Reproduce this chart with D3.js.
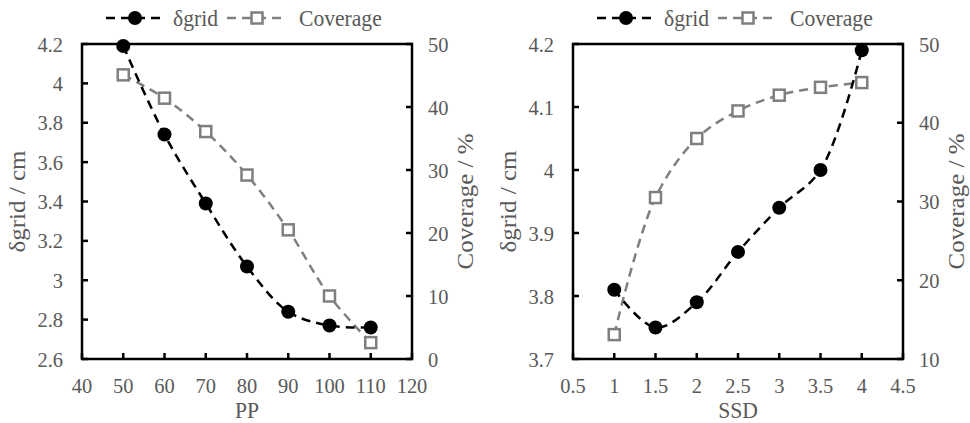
<!DOCTYPE html>
<html>
<head>
<meta charset="utf-8">
<script src="https://cdnjs.cloudflare.com/ajax/libs/d3/7.8.5/d3.min.js"></script>
<style>
  body { margin: 0; background: #fff; }
</style>
</head>
<body>
<div id="chart"></div>
<script>
// left panel
const ppValues = [50, 60, 70, 80, 90, 100, 110];
const ppGrid = [4.19, 3.74, 3.39, 3.07, 2.84, 2.77, 2.76];
const ppCoverage = [45.1, 41.4, 36.1, 29.2, 20.5, 10.0, 2.6];
const ppTicks = [40, 50, 60, 70, 80, 90, 100, 110, 120];
const ppGridTicks = [2.6, 2.8, 3, 3.2, 3.4, 3.6, 3.8, 4, 4.2];
const ppCovTicks = [0, 10, 20, 30, 40, 50];

// right panel
const ssdValues = [1, 1.5, 2, 2.5, 3, 3.5, 4];
const ssdGrid = [3.81, 3.75, 3.79, 3.87, 3.94, 4.00, 4.19];
const ssdCoverage = [13.1, 30.5, 38.0, 41.5, 43.5, 44.5, 45.1];
const ssdTicks = [0.5, 1, 1.5, 2, 2.5, 3, 3.5, 4, 4.5];
const ssdGridTicks = [3.7, 3.8, 3.9, 4, 4.1, 4.2];
const ssdCovTicks = [10, 20, 30, 40, 50];

const W = 970, H = 423;
const svg = d3.select("#chart").append("svg").attr("width", W).attr("height", H);

const black = "#000", gray = "#7f7f7f", txt = "#595959";
const serif = '"Liberation Serif"';

// text is a little narrow in the original, so squeeze horizontally
function label(g, x, y, size, anchor, sx) {
  return g.append("text")
    .attr("transform", `translate(${x},${y}) scale(${sx},1)`)
    .attr("text-anchor", anchor)
    .style("font-family", serif).style("font-size", size + "px").attr("fill", txt);
}

function panel(opt) {
  const left = opt.left, right = opt.left + 330, top = 44, bottom = 359;
  const x = d3.scaleLinear().domain(d3.extent(opt.xTicks)).range([left, right]);
  const y = d3.scaleLinear().domain(d3.extent(opt.yTicks)).range([bottom, top]);
  const y2 = d3.scaleLinear().domain(d3.extent(opt.y2Ticks)).range([bottom, top]);
  const g = svg.append("g");

  // frame
  g.append("rect").attr("x", left).attr("y", top).attr("width", right - left).attr("height", bottom - top)
    .attr("fill", "none").attr("stroke", "#000").attr("stroke-width", 2.5);

  // ticks point inward
  g.selectAll(".xt").data(opt.xTicks).enter().append("line")
    .attr("x1", d => x(d)).attr("x2", d => x(d)).attr("y1", bottom).attr("y2", bottom - 6)
    .attr("stroke", "#000").attr("stroke-width", 2.5);
  g.selectAll(".yt").data(opt.yTicks).enter().append("line")
    .attr("x1", left).attr("x2", left + 6).attr("y1", d => y(d)).attr("y2", d => y(d))
    .attr("stroke", "#000").attr("stroke-width", 2.5);
  g.selectAll(".y2t").data(opt.y2Ticks).enter().append("line")
    .attr("x1", right).attr("x2", right - 6).attr("y1", d => y2(d)).attr("y2", d => y2(d))
    .attr("stroke", "#000").attr("stroke-width", 2.5);

  opt.xTicks.forEach(d => label(g, x(d), 393, 22, "middle", 0.93).text(d));
  opt.yTicks.forEach(d => label(g, left - 19, y(d) + 7.5, 22, "end", 0.93).text(d));
  opt.y2Ticks.forEach(d => label(g, right + 16, y2(d) + 7.5, 22, "start", 0.93).text(d));

  // axis titles
  label(g, (left + right) / 2, 418, 24, "middle", 0.9).text(opt.xTitle);
  label(g, 0, 0, 25, "middle", 1)
    .attr("transform", `translate(${left - 57},${(top + bottom) / 2}) rotate(-90) scale(1,0.92)`)
    .text("δgrid / cm");
  label(g, 0, 0, 25, "middle", 1)
    .attr("transform", `translate(${right + 61},${(top + bottom) / 2}) rotate(-90) scale(1,0.92)`)
    .text("Coverage / %");

  const curve = d3.curveCatmullRom.alpha(0.5);
  const covPts = opt.xs.map((v, i) => [x(v), y2(opt.cov[i])]);
  const gridPts = opt.xs.map((v, i) => [x(v), y(opt.grid[i])]);

  g.append("path").attr("d", d3.line().curve(curve)(covPts))
    .attr("fill", "none").attr("stroke", gray).attr("stroke-width", 2.5).attr("stroke-dasharray", "9,6");
  g.selectAll(".sq").data(covPts).enter().append("rect")
    .attr("x", d => d[0] - 5.5).attr("y", d => d[1] - 5.5).attr("width", 11).attr("height", 11)
    .attr("fill", "#fff").attr("stroke", gray).attr("stroke-width", 2.5);

  g.append("path").attr("d", d3.line().curve(curve)(gridPts))
    .attr("fill", "none").attr("stroke", black).attr("stroke-width", 2.5).attr("stroke-dasharray", "9,6");
  g.selectAll(".ci").data(gridPts).enter().append("circle")
    .attr("cx", d => d[0]).attr("cy", d => d[1]).attr("r", 7).attr("fill", black);

  // legend
  const lx = left + 24, ly = 18;
  const lg = g.append("g");
  lg.append("line").attr("x1", lx).attr("x2", lx + 59).attr("y1", ly).attr("y2", ly)
    .attr("stroke", black).attr("stroke-width", 2.5).attr("stroke-dasharray", "9,6");
  lg.append("circle").attr("cx", lx + 29).attr("cy", ly).attr("r", 7).attr("fill", black);
  label(lg, lx + 67, ly + 8, 24, "start", 0.9).text("δgrid");
  lg.append("line").attr("x1", lx + 121).attr("x2", lx + 181).attr("y1", ly).attr("y2", ly)
    .attr("stroke", gray).attr("stroke-width", 2.5).attr("stroke-dasharray", "9,6");
  lg.append("rect").attr("x", lx + 145.5).attr("y", ly - 5.5).attr("width", 11).attr("height", 11)
    .attr("fill", "#fff").attr("stroke", gray).attr("stroke-width", 2.5);
  label(lg, lx + 193, ly + 8, 24, "start", 0.9).text("Coverage");
}

panel({ left: 82, xTicks: ppTicks, yTicks: ppGridTicks, y2Ticks: ppCovTicks,
  xs: ppValues, grid: ppGrid, cov: ppCoverage, xTitle: "PP" });
panel({ left: 573, xTicks: ssdTicks, yTicks: ssdGridTicks, y2Ticks: ssdCovTicks,
  xs: ssdValues, grid: ssdGrid, cov: ssdCoverage, xTitle: "SSD" });
</script>
</body>
</html>
